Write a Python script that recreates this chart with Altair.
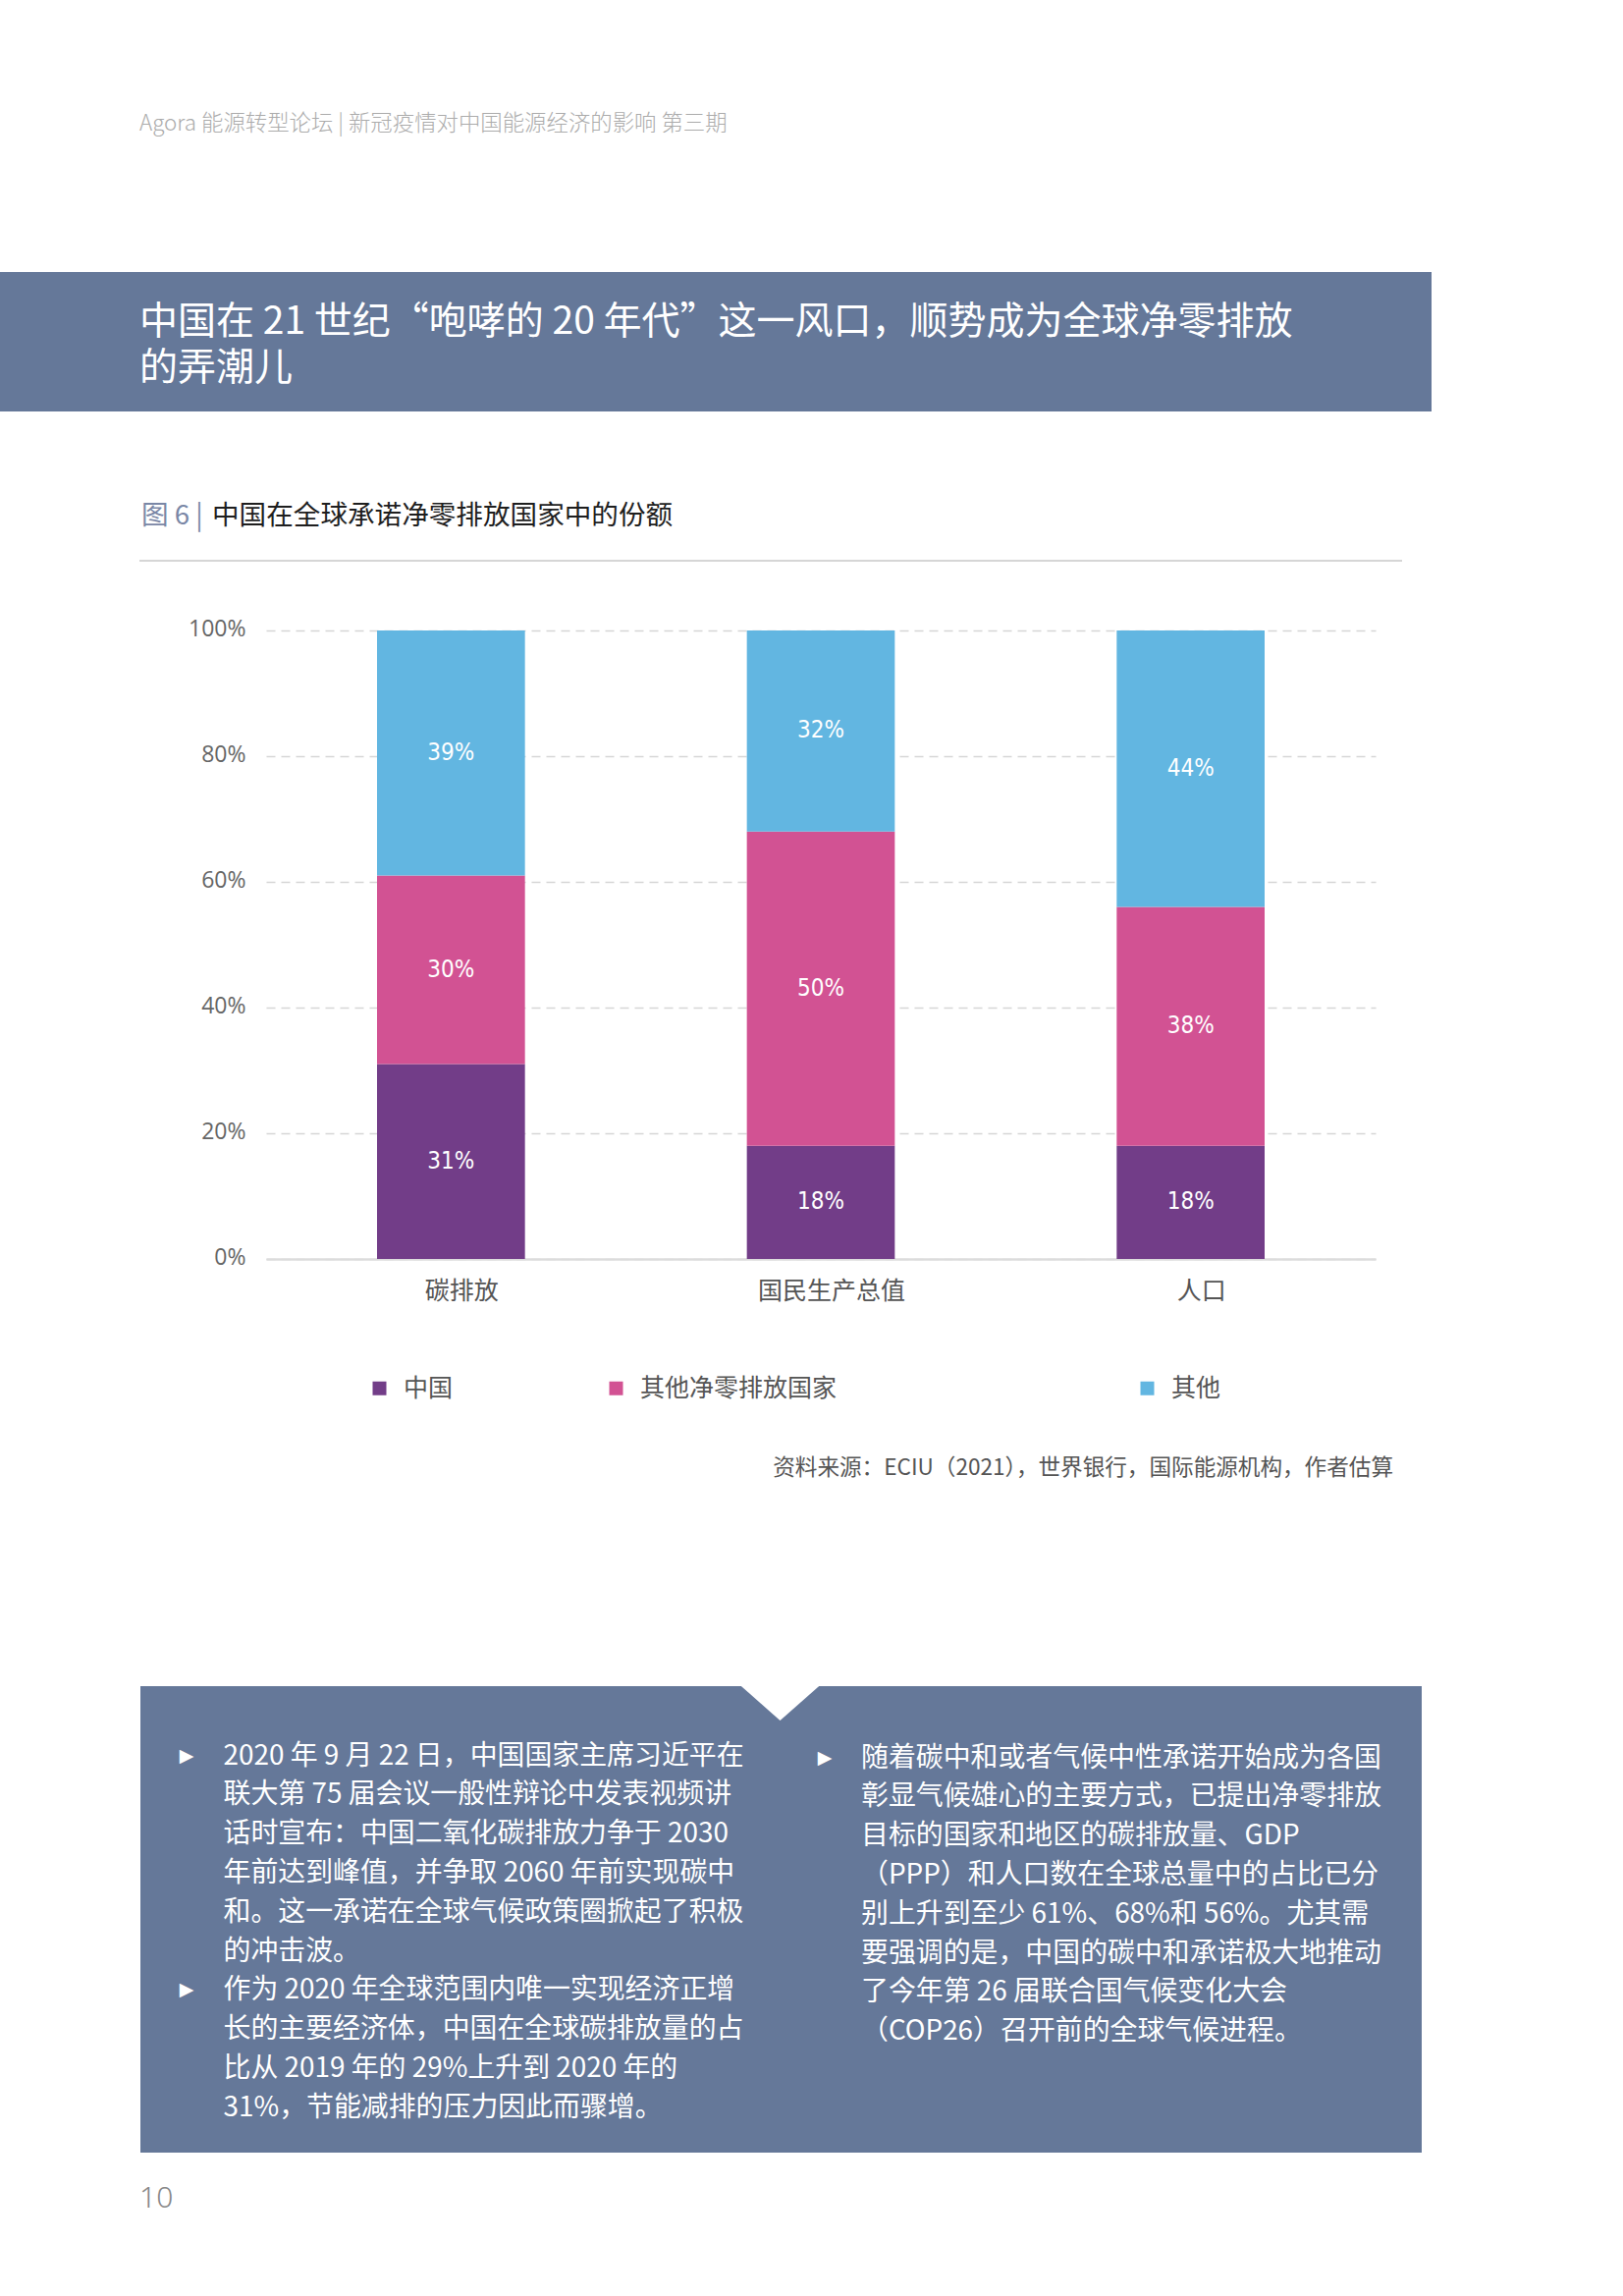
import altair as alt
import pandas as pd

# ---------------- data ----------------
categories = ["碳排放", "国民生产总值", "人口"]
series_names = ["中国", "其他净零排放国家", "其他"]
china = [31, 18, 18]
other_netzero = [30, 50, 38]
rest_world = [39, 32, 44]
series_colors = ["#723d88", "#d25293", "#62b6e1"]
y_ticks = [0, 20, 40, 60, 80, 100]

header_text = "Agora 能源转型论坛 | 新冠疫情对中国能源经济的影响 第三期"
banner_lines = ["中国在 21 世纪“咆哮的 20 年代”这一风口，顺势成为全球净零排放", "的弄潮儿"]
fig_label = "图 6 |"
fig_title = "中国在全球承诺净零排放国家中的份额"
source_text = "资料来源：ECIU（2021），世界银行，国际能源机构，作者估算"
left_lines = [
    "2020 年 9 月 22 日，中国国家主席习近平在",
    "联大第 75 届会议一般性辩论中发表视频讲",
    "话时宣布：中国二氧化碳排放力争于 2030",
    "年前达到峰值，并争取 2060 年前实现碳中",
    "和。这一承诺在全球气候政策圈掀起了积极",
    "的冲击波。",
    "作为 2020 年全球范围内唯一实现经济正增",
    "长的主要经济体，中国在全球碳排放量的占",
    "比从 2019 年的 29%上升到 2020 年的",
    "31%，节能减排的压力因此而骤增。",
]
left_bullet_lines = [0, 6]   # lines of the left column that start a bullet
right_lines = [
    "随着碳中和或者气候中性承诺开始成为各国",
    "彰显气候雄心的主要方式，已提出净零排放",
    "目标的国家和地区的碳排放量、GDP",
    "（PPP）和人口数在全球总量中的占比已分",
    "别上升到至少 61%、68%和 56%。尤其需",
    "要强调的是，中国的碳中和承诺极大地推动",
    "了今年第 26 届联合国气候变化大会",
    "（COP26）召开前的全球气候进程。",
]
right_bullet_lines = [0]
bullet_char = "▶"
page_number = "10"

# ---------------- table ----------------
rows = []
for s_i, (name, vals) in enumerate(zip(series_names, [china, other_netzero, rest_world])):
    for c, v in zip(categories, vals):
        rows.append({"category": c, "series": name, "value": v, "order": s_i})
df = pd.DataFrame(rows)

CJK = "Noto Sans CJK SC"
NARROW = "DejaVu Sans Condensed, Liberation Sans Narrow, DejaVu Sans"
BLUEGRAY = "#657899"

OX, OY = 271, 642  # plot-area origin on the page


def ty(center, fs):
    # top-baseline y for a given glyph centre (relative to plot origin)
    return center - (round(0.79 * fs) - 0.38 * fs) - OY


one = pd.DataFrame({"k": [0]})
base = alt.Chart(one)

# ---------------- page decorations ----------------
header = base.mark_text(text=header_text, font=CJK, fontSize=22.4, fontWeight=300,
                        color="#ababab", align="left", baseline="top").encode(
    x=alt.value(142 - OX), y=alt.value(ty(124, 22.4)))

band = base.mark_rect(color=BLUEGRAY).encode(
    x=alt.value(0 - OX), x2=alt.value(1458 - OX), y=alt.value(277 - OY), y2=alt.value(419 - OY))

banner = base.mark_text(text=banner_lines, font=CJK, fontSize=39, lineHeight=47,
                        color="white", align="left", baseline="top").encode(
    x=alt.value(142 - OX), y=alt.value(ty(325.5, 39)))

cap_label = base.mark_text(text=fig_label, font=CJK, fontSize=27.6, color="#7a87a6",
                           align="left", baseline="top").encode(
    x=alt.value(144 - OX), y=alt.value(ty(524, 27.6)))
cap_title = base.mark_text(text=fig_title, font=CJK, fontSize=27.6, color="#1e1e1e",
                           align="left", baseline="top").encode(
    x=alt.value(216 - OX), y=alt.value(ty(524, 27.6)))

cap_rule = base.mark_rule(color="#c8c8c8", strokeWidth=1.5).encode(
    x=alt.value(142 - OX), x2=alt.value(1428 - OX), y=alt.value(571 - OY))

source = base.mark_text(text=source_text, font=CJK, fontSize=22.6, color="#555555",
                        align="right", baseline="top").encode(
    x=alt.value(1419 - OX), y=alt.value(ty(1493, 22.6)))

box = base.mark_rect(color=BLUEGRAY).encode(
    x=alt.value(143 - OX), x2=alt.value(1448 - OX), y=alt.value(1717 - OY), y2=alt.value(2192 - OY))

notch = base.mark_point(shape="M-1,-0.06 L1,-0.06 L0,0.824 Z", filled=True, fill="white",
                        opacity=1, strokeWidth=0, size=7225).encode(
    x=alt.value(794.5 - OX), y=alt.value(1717 - OY))

LH = 39.8
BODY_FS = 27.9
LEFT_Y0, RIGHT_Y0 = 1786, 1788
left_txt = base.mark_text(text=left_lines, font=CJK, fontSize=BODY_FS, lineHeight=LH,
                          color="white", align="left", baseline="top").encode(
    x=alt.value(227.5 - OX), y=alt.value(ty(LEFT_Y0, BODY_FS)))
right_txt = base.mark_text(text=right_lines, font=CJK, fontSize=BODY_FS, lineHeight=LH,
                           color="white", align="left", baseline="top").encode(
    x=alt.value(877 - OX), y=alt.value(ty(RIGHT_Y0, BODY_FS)))

bullets = []
for xb, y0, idxs in [(190, LEFT_Y0, left_bullet_lines), (840, RIGHT_Y0, right_bullet_lines)]:
    for i in idxs:
        bullets.append(
            base.mark_text(text=bullet_char, font="DejaVu Sans", fontSize=19,
                           color="white", align="center", baseline="top").encode(
                x=alt.value(xb - OX), y=alt.value(y0 + i * LH - 7.5 - OY)))

page_no = base.mark_text(text=page_number, font="Noto Sans", fontSize=30, fontWeight=300,
                         color="#888888", align="left", baseline="top").encode(
    x=alt.value(142 - OX), y=alt.value(2237 - 13.2 - OY))

# ---------------- chart ----------------
pad_label = ("datum.label == '其他净零排放国家' ? datum.label + '"
             + "\u3000" * 6 + "\u200b' : datum.label")

x_enc = alt.X("category:N", sort=categories,
              scale=alt.Scale(paddingInner=0.6, paddingOuter=0.3),
              axis=alt.Axis(title=None, labelAngle=0, ticks=False, domain=True,
                            domainColor="#dcdcdc", domainWidth=2.5, grid=False,
                            labelFont=CJK, labelFontSize=25, labelColor="#555555",
                            labelPadding=20, labelOffset=11))

bars = alt.Chart(df).mark_bar().encode(
    x=x_enc,
    y=alt.Y("value:Q", stack="zero", scale=alt.Scale(domain=[0, 100], nice=False),
            axis=alt.Axis(title=None, values=y_ticks, labelExpr="datum.value + '%'",
                          ticks=False, domain=False, grid=True, gridColor="#d6d6d6",
                          gridDash=[9, 6], gridWidth=1.5, labelFont="Open Sans",
                          labelFontSize=23, labelColor="#666666", labelPadding=21,
                          labelOffset=-2)),
    color=alt.Color("series:N", sort=series_names,
                    scale=alt.Scale(domain=series_names, range=series_colors),
                    legend=alt.Legend(title=None, orient="none", legendX=103, legendY=759,
                                      direction="horizontal", symbolType="square",
                                      symbolSize=196, symbolStrokeWidth=0,
                                      labelFont=CJK, labelFontSize=25, labelColor="#555555",
                                      labelOffset=12, columnPadding=153, padding=0,
                                      labelLimit=600, labelExpr=pad_label)),
    order=alt.Order("order:Q", sort="ascending"),
)

labels = alt.Chart(df).transform_stack(
    stack="value", groupby=["category"], as_=["v0", "v1"],
    sort=[alt.SortField(field="order", order="ascending")],
).transform_calculate(
    mid="(datum.v0 + datum.v1) / 2", lab="datum.value + '%'"
).mark_text(color="white", font=NARROW, fontSize=24, baseline="middle", align="center").encode(
    x=alt.X("category:N", sort=categories),
    y=alt.Y("mid:Q"),
    text="lab:N",
)

chart = alt.layer(
    band, box, notch, header, banner, cap_label, cap_title, cap_rule, source,
    *bullets, left_txt, right_txt, page_no,
    bars, labels,
).properties(
    width=1130, height=640,
    autosize=alt.AutoSizeParams(type="none"),
    padding={"left": OX, "top": OY, "right": 1653 - 1401, "bottom": 2338 - 1282},
    background="white",
).configure_view(stroke="transparent")

chart.save("out.html", embed_options={"renderer": "svg", "actions": False})
